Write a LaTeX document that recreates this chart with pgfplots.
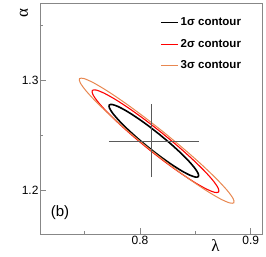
\documentclass[border=0pt]{standalone}
\usepackage{pgfplots}
\pgfplotsset{compat=1.18}
\usepackage{fontspec}
\setmainfont{Liberation Sans}
\newfontfamily\grk{Liberation Serif}
\definecolor{orangec}{RGB}{232,135,80}
\definecolor{framegray}{RGB}{135,135,135}
\definecolor{crossgray}{RGB}{90,90,90}
\begin{document}
\begin{tikzpicture}
\path[use as bounding box] (-40pt,-23pt) rectangle (226pt,234pt);
\begin{axis}[
 scale only axis, width=222pt, height=231pt,
 xmin=0.7097, xmax=0.9102, ymin=1.1604, ymax=1.3698,
 axis line style={framegray, line width=0.8pt},
 xtick={0.8,0.9}, ytick={1.2,1.3},
 xticklabels={0.8,0.9}, yticklabels={1.2,1.3},
 minor xtick={0.75,0.85}, minor ytick={1.25,1.35},
 tick align=inside, xtick pos=bottom, ytick pos=left,
 major tick length=6pt, minor tick length=3pt,
 tick style={framegray, line width=0.6pt},
 ticklabel style={font=\fontsize{12}{13}\selectfont},
 xticklabel style={yshift=1pt},
 yticklabel style={xshift=2pt},
 xlabel={\grk λ}, ylabel={\grk α},
 label style={font=\fontsize{17}{18}\selectfont},
 xlabel style={at={(axis description cs:0.79,0)}, anchor=center, yshift=-12pt},
 ylabel style={at={(axis description cs:-0.072,0.955)}, anchor=center, rotate=0},
 legend style={draw=none, fill=none, at={(axis description cs:0.54,0.945)}, anchor=north west,
   font=\bfseries\fontsize{11.5}{13}\selectfont, row sep=8pt, inner sep=0pt},
 legend cell align=left,
]
\addplot[black, line width=1.6pt, smooth] coordinates {
(0.81733,1.25088) (0.80676,1.25908) (0.79657,1.26631) (0.78749,1.27208) (0.78010,1.27599)
(0.77491,1.27779) (0.77229,1.27735) (0.77241,1.27469) (0.77526,1.27001) (0.78065,1.26362)
(0.78821,1.25595) (0.79742,1.24752) (0.80767,1.23892) (0.81824,1.23072) (0.82843,1.22349)
(0.83751,1.21772) (0.84490,1.21381) (0.85009,1.21201) (0.85271,1.21245) (0.85259,1.21511)
(0.84974,1.21979) (0.84435,1.22618) (0.83679,1.23385) (0.82758,1.24228) (0.81733,1.25088)
};
\addlegendentry{1σ contour}
\addplot[red, line width=1.1pt, smooth] coordinates {
(0.81997,1.25190) (0.80501,1.26356) (0.79065,1.27393) (0.77789,1.28229) (0.76759,1.28807)
(0.76046,1.29088) (0.75696,1.29054) (0.75736,1.28706) (0.76161,1.28067) (0.76945,1.27183)
(0.78031,1.26113) (0.79347,1.24928) (0.80803,1.23712) (0.82299,1.22546) (0.83735,1.21509)
(0.85011,1.20673) (0.86041,1.20095) (0.86754,1.19814) (0.87104,1.19848) (0.87064,1.20196)
(0.86639,1.20835) (0.85855,1.21719) (0.84769,1.22789) (0.83453,1.23974) (0.81997,1.25190)
};
\addlegendentry{2σ contour}
\addplot[orangec, line width=1pt, smooth] coordinates {
(0.82134,1.25272) (0.80309,1.26702) (0.78564,1.27981) (0.77021,1.29023) (0.75784,1.29757)
(0.74937,1.30132) (0.74537,1.30123) (0.74613,1.29730) (0.75158,1.28981) (0.76137,1.27927)
(0.77482,1.26639) (0.79101,1.25204) (0.80884,1.23722) (0.82709,1.22292) (0.84454,1.21013)
(0.85997,1.19971) (0.87234,1.19237) (0.88081,1.18862) (0.88481,1.18871) (0.88405,1.19264)
(0.87860,1.20013) (0.86881,1.21067) (0.85536,1.22355) (0.83917,1.23790) (0.82134,1.25272)
};
\addlegendentry{3σ contour}
\addplot[crossgray, line width=0.6pt, forget plot] coordinates {(0.8102,1.212) (0.8102,1.278)};
\addplot[crossgray, line width=0.6pt, forget plot] coordinates {(0.772,1.2444) (0.853,1.2444)};
\node[font=\fontsize{15}{16}\selectfont] at (axis description cs:0.09,0.091) {(b)};
\end{axis}
\end{tikzpicture}
\end{document}
